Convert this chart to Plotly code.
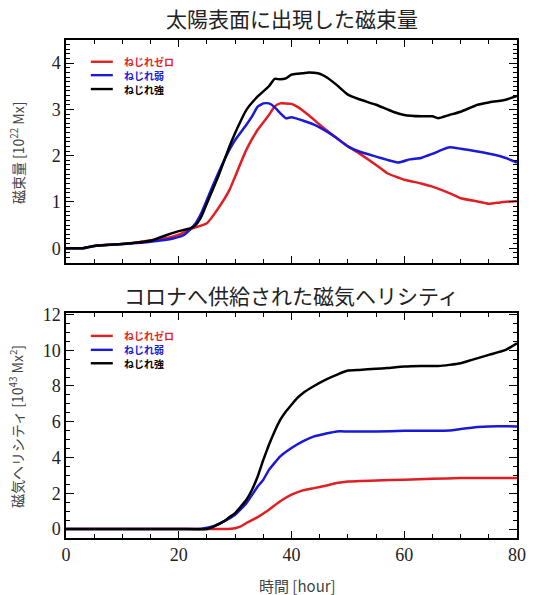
import plotly.graph_objects as go

# ---------------- data ----------------
# Panel 1: emerged magnetic flux [1e22 Mx]
flux_zero_t = [0, 3, 5, 8, 10, 13, 15, 18, 20, 22, 23, 25, 27, 29, 30, 32, 34, 36, 37, 38, 39, 40, 41, 43, 45,
               48, 50, 52, 55, 57, 60, 63, 65, 68, 70, 73, 75, 77, 80]
flux_zero = [0, 0.0, 0.05, 0.08, 0.09, 0.13, 0.17, 0.22, 0.29, 0.41, 0.45, 0.54, 0.86, 1.26, 1.55, 2.13, 2.56,
             2.88, 3.06, 3.13, 3.13, 3.12, 3.06, 2.88, 2.67, 2.38, 2.2, 2.05, 1.80, 1.62, 1.48, 1.40, 1.33, 1.19,
             1.08, 1.01, 0.96, 0.99, 1.02]

flux_weak_t = [0, 3, 5, 10, 15, 19, 21, 22, 23, 24, 25, 27, 29, 30, 32, 33, 34, 35, 36, 37, 38, 39, 40, 42, 44,
               46, 48, 50, 52, 55, 57, 59, 61, 63, 65, 67, 68, 70, 73, 76, 78, 80]
flux_weak = [0, 0, 0.05, 0.09, 0.14, 0.21, 0.29, 0.40, 0.54, 0.76, 1.05, 1.62, 2.13, 2.34, 2.67, 2.85, 3.06,
             3.13, 3.13, 3.05, 2.92, 2.81, 2.83, 2.76, 2.67, 2.54, 2.38, 2.2, 2.09, 1.98, 1.91, 1.85, 1.92, 1.95,
             2.04, 2.14, 2.18, 2.15, 2.09, 2.02, 1.95, 1.85]

flux_strong_t = [0, 3, 5, 10, 15, 18, 20, 22, 23, 24, 25, 27, 29, 30, 32, 34, 36, 37, 38, 39, 40, 41, 42, 43, 44,
                 45, 46, 48, 50, 52, 55, 58, 60, 63, 65, 66, 68, 70, 73, 75, 78, 80]
flux_strong = [0, 0, 0.05, 0.09, 0.16, 0.29, 0.37, 0.43, 0.5, 0.68, 0.97, 1.55, 2.2, 2.49, 2.99, 3.28, 3.5,
               3.66, 3.65, 3.67, 3.75, 3.77, 3.78, 3.8, 3.79, 3.77, 3.71, 3.53, 3.32, 3.22, 3.1, 2.95, 2.88,
               2.85, 2.85, 2.81, 2.88, 2.95, 3.1, 3.15, 3.21, 3.29]

# Panel 2: magnetic helicity injected into the corona [1e43 Mx^2]
hel_zero_t = [0, 10, 20, 28, 30, 31, 32, 34, 36, 38, 40, 42, 44, 46, 48, 50, 55, 60, 65, 70, 75, 80]
hel_zero = [0, 0, 0, 0, 0.05, 0.15, 0.34, 0.67, 1.08, 1.55, 1.92, 2.16, 2.29, 2.42, 2.57, 2.66, 2.72, 2.76,
            2.81, 2.85, 2.85, 2.85]

hel_weak_t = [0, 10, 20, 24, 26, 28, 30, 32, 34, 35, 36, 38, 40, 42, 44, 46, 48, 50, 55, 60, 65, 68, 70, 73,
              75, 80]
hel_weak = [0, 0, 0, 0.02, 0.15, 0.43, 0.8, 1.45, 2.38, 2.76, 3.31, 4.06, 4.53, 4.9, 5.18, 5.33, 5.46, 5.46,
            5.46, 5.49, 5.49, 5.51, 5.59, 5.7, 5.74, 5.74]

hel_strong_t = [0, 10, 20, 25, 26, 28, 29, 30, 32, 33, 34, 35, 36, 37, 38, 39, 40, 41, 42, 44, 46, 48, 50, 52,
                55, 57, 60, 63, 66, 68, 70, 72, 75, 78, 80]
hel_strong = [0, 0, 0, 0, 0.11, 0.43, 0.67, 0.89, 1.64, 2.2, 2.94, 3.87, 4.71, 5.46, 6.1, 6.57, 6.95, 7.32,
              7.6, 8.0, 8.34, 8.62, 8.86, 8.9, 8.96, 9.0, 9.09, 9.12, 9.12, 9.18, 9.27, 9.46, 9.74, 10.02, 10.39]

series_names = ["ねじれゼロ", "ねじれ弱", "ねじれ強"]
series_colors = ["rgb(225,30,35)", "rgb(25,25,215)", "rgb(0,0,0)"]

x_ticks = [0, 20, 40, 60, 80]

# ---------------- figure ----------------
fig = go.Figure()
flux_sets = [(flux_zero_t, flux_zero), (flux_weak_t, flux_weak), (flux_strong_t, flux_strong)]
hel_sets = [(hel_zero_t, hel_zero), (hel_weak_t, hel_weak), (hel_strong_t, hel_strong)]

for (t, v), name, col in zip(flux_sets, series_names, series_colors):
    fig.add_trace(go.Scatter(x=t, y=v, mode="lines", name=name, showlegend=False,
                             line=dict(color=col, width=2.5, shape="spline", smoothing=0.4),
                             xaxis="x", yaxis="y"))
for (t, v), name, col in zip(hel_sets, series_names, series_colors):
    fig.add_trace(go.Scatter(x=t, y=v, mode="lines", name=name, showlegend=False,
                             line=dict(color=col, width=2.5, shape="spline", smoothing=0.4),
                             xaxis="x2", yaxis="y2"))

tick_font = dict(family="Liberation Serif, DejaVu Serif, serif", size=18, color="#222")
common_x = dict(range=[0, 80], tickvals=x_ticks, ticks="inside", ticklen=7, tickwidth=1, tickcolor="black",
                showline=True, linecolor="black", linewidth=1.5, mirror="allticks", showgrid=False,
                zeroline=False, tickfont=tick_font,
                minor=dict(dtick=5, ticks="inside", ticklen=4, tickcolor="black", showgrid=False))

fig.update_layout(
    width=537, height=595,
    margin=dict(l=66, r=20, t=40, b=57),
    paper_bgcolor="white", plot_bgcolor="white",
    xaxis=dict(common_x, domain=[0, 1], anchor="y", showticklabels=False),
    yaxis=dict(domain=[0.5522, 1.0], range=[-0.32, 4.5], tickvals=[0, 1, 2, 3, 4], ticks="inside",
               ticklen=8, tickcolor="black", showline=True, linecolor="black", linewidth=1.5,
               mirror="allticks", showgrid=False, zeroline=False, tickfont=tick_font,
               minor=dict(dtick=0.1, ticks="inside", ticklen=4, tickcolor="black", showgrid=False)),
    xaxis2=dict(common_x, domain=[0, 1], anchor="y2", showticklabels=True),
    yaxis2=dict(domain=[0.0, 0.4518], range=[-0.5, 12.08], tickvals=[0, 2, 4, 6, 8, 10, 12], ticks="inside",
                ticklen=8, tickcolor="black", showline=True, linecolor="black", linewidth=1.5,
                mirror="allticks", showgrid=False, zeroline=False, tickfont=tick_font,
                minor=dict(dtick=0.5, ticks="inside", ticklen=4, tickcolor="black", showgrid=False)),
)

title_font = dict(family="Noto Sans CJK JP", size=21, color="#222")
label_font = dict(family="Noto Sans CJK JP", size=14, color="#444")

fig.add_annotation(text="太陽表面に出現した磁束量", xref="paper", yref="paper", x=0.5, y=1.0442,
                   xanchor="center", yanchor="middle", showarrow=False, font=title_font)
fig.add_annotation(text="コロナへ供給された磁気ヘリシティ", xref="paper", yref="paper", x=0.5, y=0.488,
                   xanchor="center", yanchor="middle", showarrow=False, font=title_font)
fig.add_annotation(text="磁束量 [10<sup>22</sup> Mx]", xref="paper", yref="paper", x=-0.1086, y=0.773,
                   xanchor="center", yanchor="middle", textangle=-90, showarrow=False, font=label_font)
fig.add_annotation(text="磁気ヘリシティ [10<sup>43</sup> Mx<sup>2</sup>]", xref="paper", yref="paper",
                   x=-0.1086, y=0.2229, xanchor="center", yanchor="middle", textangle=-90,
                   showarrow=False, font=label_font)
fig.add_annotation(text="時間 [hour]", xref="paper", yref="paper", x=0.514, y=-0.0944,
                   xanchor="center", yanchor="middle", showarrow=False,
                   font=dict(family="Noto Sans CJK JP", size=15, color="#444"))

# in-plot legends (line sample + coloured label)
leg_x0, leg_x1, leg_tx = 4.4, 8.3, 9.9
leg_rows = [("x", "y", [4.03, 3.74, 3.44]), ("x2", "y2", [10.8, 10.02, 9.27])]
for xr, yr, ys in leg_rows:
    for yy, name, col in zip(ys, series_names, series_colors):
        fig.add_shape(type="line", xref=xr, yref=yr, x0=leg_x0, x1=leg_x1, y0=yy, y1=yy,
                      line=dict(color=col, width=2.4))
        fig.add_annotation(text="<b>" + name + "</b>", xref=xr, yref=yr, x=leg_tx, y=yy, xanchor="left",
                           yanchor="middle", showarrow=False,
                           font=dict(family="Noto Sans CJK JP", size=10, color=col))

fig.write_html("out.html")
